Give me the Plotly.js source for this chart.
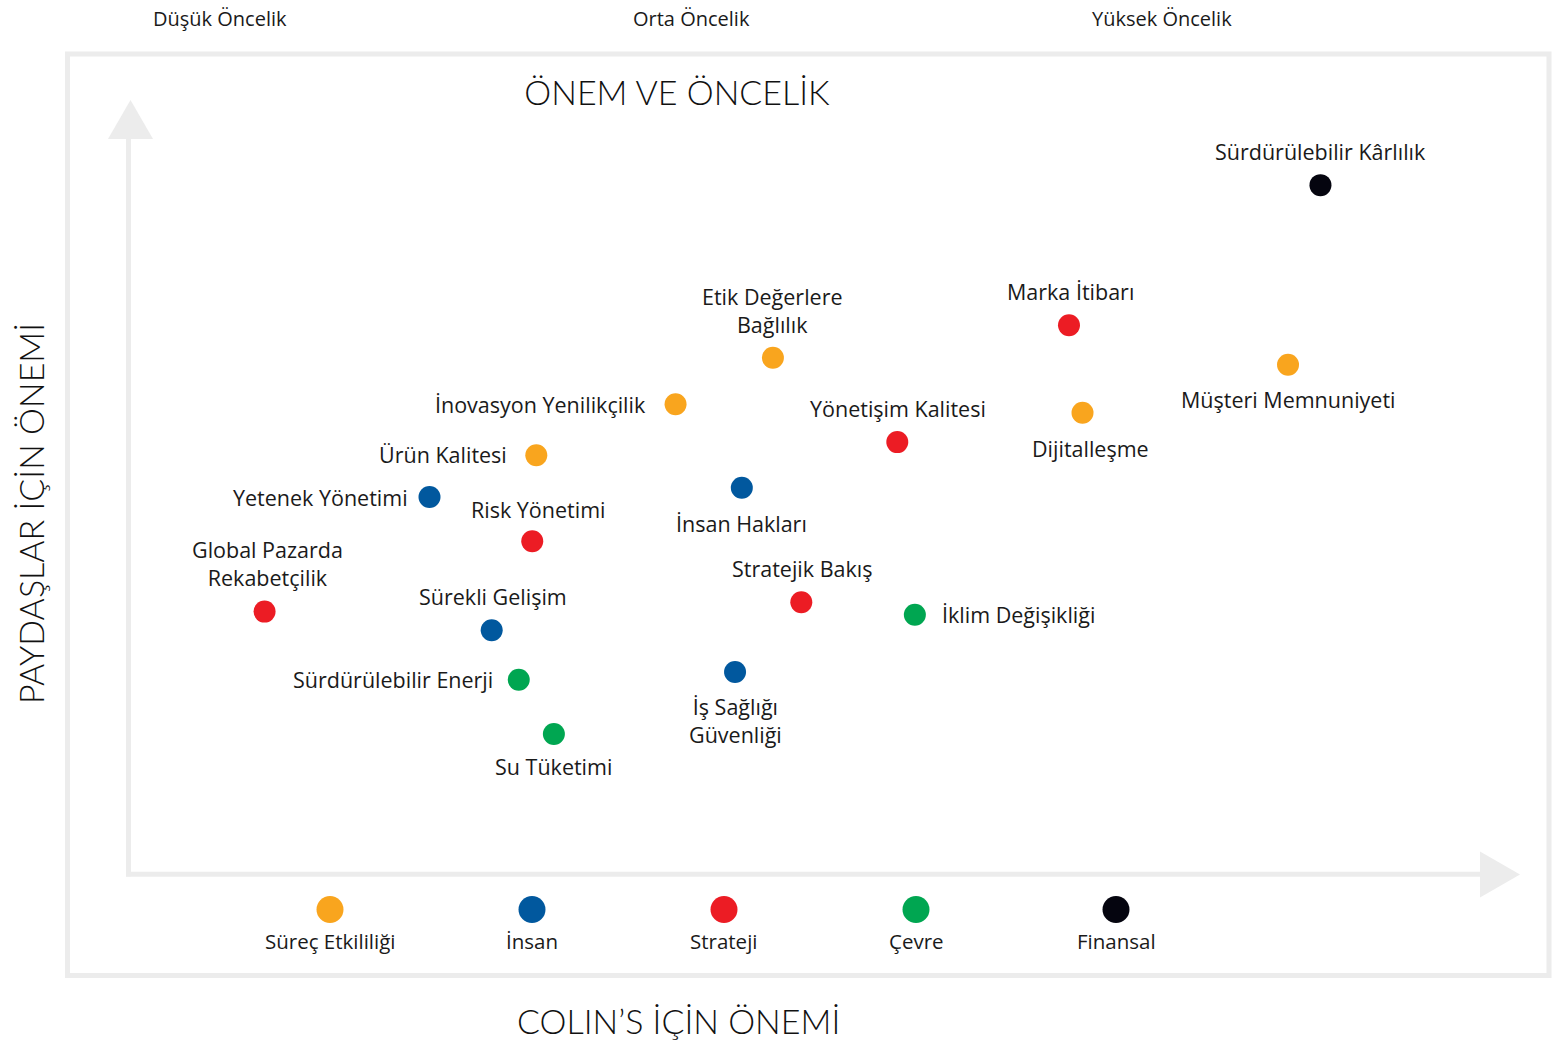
<!DOCTYPE html>
<html>
<head>
<meta charset="utf-8">
<script src="https://cdn.plot.ly/plotly-3.0.1.min.js"></script>
<style>
  html, body { margin: 0; padding: 0; background: #ffffff; }
  #chart { width: 1557px; height: 1041px; }
</style>
</head>
<body>
<div id="chart"></div>
<script>
// ---------- DATA ----------
const topics = [
  "Sürdürülebilir Kârlılık", "Marka İtibarı", "Müşteri Memnuniyeti", "Dijitalleşme",
  "Etik Değerlere<br>Bağlılık", "İnovasyon Yenilikçilik", "Yönetişim Kalitesi", "Ürün Kalitesi",
  "İnsan Hakları", "Yetenek Yönetimi", "Risk Yönetimi", "Global Pazarda<br>Rekabetçilik",
  "Stratejik Bakış", "İklim Değişikliği", "Sürekli Gelişim", "İş Sağlığı<br>Güvenliği",
  "Sürdürülebilir Enerji", "Su Tüketimi"
];
const topicGroup = [
  "Finansal", "Strateji", "Süreç Etkililiği", "Süreç Etkililiği",
  "Süreç Etkililiği", "Süreç Etkililiği", "Strateji", "Süreç Etkililiği",
  "İnsan", "İnsan", "Strateji", "Strateji",
  "Strateji", "Çevre", "İnsan", "İnsan",
  "Çevre", "Çevre"
];
// COLIN'S İÇİN ÖNEMİ (x) and PAYDAŞLAR İÇİN ÖNEMİ (y), 0–10 scale
const colinImportance = [8.82, 6.96, 8.58, 7.06, 4.77, 4.05, 5.69, 3.02, 4.54, 2.23, 2.99, 1.01, 4.98, 5.82, 2.69, 4.49, 2.89, 3.15];
const stakeholderImportance = [8.90, 7.09, 6.58, 5.96, 6.67, 6.07, 5.58, 5.41, 4.99, 4.87, 4.30, 3.39, 3.51, 3.35, 3.15, 2.61, 2.51, 1.81];

const groups = ["Süreç Etkililiği", "İnsan", "Strateji", "Çevre", "Finansal"];
const priorityLabels = ["Düşük Öncelik", "Orta Öncelik", "Yüksek Öncelik"];

// ---------- STYLE ----------
const groupColors = {
  "Süreç Etkililiği": "#F9A51E",
  "İnsan": "#01589E",
  "Strateji": "#EC1C24",
  "Çevre": "#00A651",
  "Finansal": "#05050F"
};
// label placement per topic: [xanchor, dx px, dy px (down positive)]
const labelPlacement = [
  ["center", 0, -34], ["center", 2, -34], ["center", 0, 35], ["center", 8, 36],
  ["center", 0, -47], ["right", -28, 0], ["center", 1, -34], ["right", -27, -1],
  ["center", 0, 36], ["right", -20, 0], ["center", 6, -32], ["center", 3, -48],
  ["center", 1, -34], ["left", 25, 0], ["center", 1, -34], ["center", 0, 49],
  ["right", -24, 0], ["center", 0, 33]
];
const legendPx = [330, 532, 724, 916, 1116];
const priorityPx = [220, 691, 1162];

const FONT = '"Open Sans", Lato, "Noto Sans", sans-serif';
const TFONT = 'Lato, "Noto Sans", "DejaVu Sans", sans-serif';
const TXT = "#1a1a1a";
const GRAY = "#ECECEC";

// plot area pixel geometry
const L = 128, R = 77, T = 100, B = 167, W = 1557, H = 1041;
const PW = W - L - R, PH = H - T - B;
const px = v => (v - L) / PW;          // page px -> paper x
const py = v => (H - B - v) / PH;      // page px -> paper y

// ---------- TRACES ----------
const traces = groups.map(g => {
  const idx = topics.map((_, i) => i).filter(i => topicGroup[i] === g);
  return {
    type: "scatter", mode: "markers", name: g,
    x: idx.map(i => colinImportance[i]),
    y: idx.map(i => stakeholderImportance[i]),
    marker: { color: groupColors[g], size: 22, line: { width: 0 } },
    hoverinfo: "text", text: idx.map(i => topics[i].replace("<br>", " ")),
    cliponaxis: false
  };
});

// ---------- ANNOTATIONS ----------
const annotations = [];
topics.forEach((t, i) => {
  const p = labelPlacement[i];
  annotations.push({
    x: colinImportance[i], y: stakeholderImportance[i], xref: "x", yref: "y",
    text: t, showarrow: false, xanchor: p[0], yanchor: "middle",
    xshift: p[1], yshift: -p[2], align: "center",
    font: { family: FONT, size: 21.5, color: TXT, weight: 400 }
  });
});
priorityLabels.forEach((t, i) => {
  annotations.push({
    x: px(priorityPx[i]), y: py(18), xref: "paper", yref: "paper",
    text: t, showarrow: false, xanchor: "center", yanchor: "middle",
    font: { family: FONT, size: 20, color: TXT, weight: 400 }
  });
});
groups.forEach((g, i) => {
  annotations.push({
    x: px(legendPx[i]), y: py(941), xref: "paper", yref: "paper",
    text: g, showarrow: false, xanchor: "center", yanchor: "middle",
    font: { family: FONT, size: 20.5, color: TXT, weight: 400 }
  });
});
annotations.push({
  x: px(678), y: py(1020), xref: "paper", yref: "paper",
  text: "COLIN’S İÇİN ÖNEMİ", showarrow: false, xanchor: "center", yanchor: "middle",
  font: { family: TFONT, size: 34, color: "#111", weight: 300 }
});
annotations.push({
  x: px(30), y: py(514), xref: "paper", yref: "paper",
  text: "PAYDAŞLAR İÇİN ÖNEMİ", showarrow: false, textangle: -90,
  xanchor: "center", yanchor: "middle",
  font: { family: TFONT, size: 34, color: "#111", weight: 300 }
});

// ---------- SHAPES ----------
const shapes = [
  { type: "rect", xref: "paper", yref: "paper",
    x0: px(67.5), x1: px(1549), y0: py(975.5), y1: py(54),
    line: { color: GRAY, width: 5 }, fillcolor: "rgba(0,0,0,0)", layer: "below" },
  { type: "line", xref: "paper", yref: "paper",
    x0: px(128.5), x1: px(128.5), y0: py(876.5), y1: py(136),
    line: { color: GRAY, width: 5 }, layer: "below" },
  { type: "line", xref: "paper", yref: "paper",
    x0: px(126), x1: px(1482), y0: py(874.2), y1: py(874.2),
    line: { color: GRAY, width: 5 }, layer: "below" },
  { type: "path", xref: "paper", yref: "paper", layer: "below",
    path: `M ${px(108)} ${py(139)} L ${px(130.5)} ${py(100)} L ${px(153)} ${py(139)} Z`,
    fillcolor: GRAY, line: { width: 0 } },
  { type: "path", xref: "paper", yref: "paper", layer: "below",
    path: `M ${px(1480)} ${py(851.5)} L ${px(1520)} ${py(874.5)} L ${px(1480)} ${py(897.5)} Z`,
    fillcolor: GRAY, line: { width: 0 } }
];
groups.forEach((g, i) => {
  shapes.push({
    type: "circle", xref: "paper", yref: "paper",
    xsizemode: "pixel", ysizemode: "pixel",
    xanchor: px(legendPx[i]), yanchor: py(909.5),
    x0: -13.5, x1: 13.5, y0: -13.5, y1: 13.5,
    fillcolor: groupColors[g], line: { width: 0 }
  });
});

// ---------- LAYOUT ----------
const layout = {
  width: W, height: H,
  margin: { l: L, r: R, t: T, b: B, pad: 0 },
  paper_bgcolor: "#ffffff", plot_bgcolor: "rgba(0,0,0,0)",
  showlegend: false,
  title: {
    text: "ÖNEM VE ÖNCELİK",
    x: px(677), xref: "paper", xanchor: "center",
    y: 1 - 93 / H, yref: "container", yanchor: "middle",
    font: { family: TFONT, size: 34, color: "#111", weight: 300 }
  },
  xaxis: { range: [0, 10], visible: false, fixedrange: true },
  yaxis: { range: [0, 10], visible: false, fixedrange: true },
  annotations: annotations,
  shapes: shapes,
  hovermode: "closest"
};

Plotly.newPlot("chart", traces, layout, { displayModeBar: false, staticPlot: false });
</script>
</body>
</html>
